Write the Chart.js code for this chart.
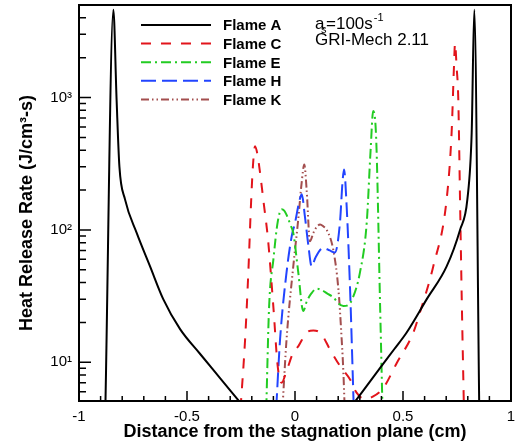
<!DOCTYPE html>
<html lang="en">
<head>
    <meta charset="UTF-8">
    <title>Heat Release Rate</title>
    <script src="https://cdn.jsdelivr.net/npm/chart.js"></script>
    <style>
        body {
            margin: 0;
            padding: 0;
            background: white;
        }
        .chart-container {
            width: 519px;
            height: 443px;
        }
    </style>
</head>
<body>
    <div class="chart-container">
        <canvas id="hrrChart"></canvas>
    </div>

    <script>
        // values (x in cm, heat release in J/cm3-s)
        const flameAX = [-0.878, -0.841, -0.826, -0.813, -0.787, -0.733, -0.671, -0.610, -0.532, -0.44, -0.347, -0.255, 0, 0.272, 0.401, 0.46, 0.517, 0.610, 0.702, 0.764, 0.798, 0.818, 0.830, 0.853];
        const flameAY = [4.5, 4600, 966, 302, 170, 95, 53, 30, 17.8, 11.6, 7.6, 5.0, null, 4.9, 9.4, 12.6, 16.8, 30, 53, 100, 170, 542, 4600, 4.5];

        const flameCX = [-0.252, -0.231, -0.216, -0.204, -0.195, -0.185, -0.175, -0.162, -0.145, -0.125, -0.10, -0.08, -0.062, -0.04, -0.008, 0.015, 0.054, 0.085, 0.12, 0.162, 0.208, 0.255, 0.285, 0.32, 0.36, 0.409, 0.47, 0.548, 0.579, 0.640, 0.702, 0.725, 0.736, 0.741, 0.748, 0.756, 0.764, 0.772, 0.782];
        const flameCY = [4.5, 14.9, 48, 152, 300, 429, 380, 272, 160, 85, 26, 9.3, 7.0, 8.5, 11.9, 13.2, 16.8, 17.4, 16.5, 12.5, 9.4, 7.4, 5.9, 5.3, 5.5, 6.4, 9.8, 16.8, 24, 53, 170, 540, 1720, 2570, 1720, 966, 170, 30, 4.5];

        const flameEX = [-0.133, -0.12, -0.10, -0.08, -0.062, -0.05, -0.039, -0.02, -0.008, 0.015, 0.038, 0.055, 0.075, 0.10, 0.125, 0.15, 0.177, 0.20, 0.224, 0.245, 0.265, 0.301, 0.332, 0.350, 0.362, 0.376, 0.394, 0.405];
        const flameEY = [4.5, 26, 60, 115, 143, 140, 130, 108, 95, 48, 24.4, 29, 33, 36, 35, 33, 31, 28, 26.6, 27, 30, 48, 113, 400, 790, 480, 26.6, 4.5];

        const flameHX = [-0.087, -0.069, -0.039, -0.015, 0.0, 0.020, 0.031, 0.046, 0.062, 0.077, 0.095, 0.131, 0.160, 0.185, 0.208, 0.220, 0.227, 0.239, 0.255, 0.267, 0.272];
        const flameHY = [4.5, 15, 48, 90, 113, 165, 186, 126, 76, 53, 62, 73, 70, 67.5, 113, 230, 286, 152, 35.5, 8.4, 4.5];

        const flameKX = [-0.058, -0.039, -0.008, 0.015, 0.031, 0.043, 0.054, 0.069, 0.085, 0.100, 0.116, 0.132, 0.147, 0.177, 0.201, 0.216, 0.224, 0.230];
        const flameKY = [4.5, 15, 53, 120, 229, 312, 200, 82, 95, 105, 110, 106, 100, 71, 35.5, 15, 8.4, 4.5];

        const xTickValues = [-1, -0.9, -0.8, -0.7, -0.6, -0.5, -0.4, -0.3, -0.2, -0.1, 0, 0.1, 0.2, 0.3, 0.4, 0.5, 0.6, 0.7, 0.8, 0.9, 1];
        const yTickValues = [6, 7, 8, 9, 10, 20, 30, 40, 50, 60, 70, 80, 90, 100, 200, 300, 400, 500, 600, 700, 800, 900, 1000, 2000, 3000, 4000];
        const yTickLabels = { 10: '10\u00b9', 100: '10\u00b2', 1000: '10\u00b3' };

        const FONT = "'Liberation Sans', Arial, sans-serif";

        function toPoints(xs, ys) {
            return xs.map((x, i) => ({ x: x, y: ys[i] }));
        }

        function makeSet(label, xs, ys, color, dash) {
            return {
                label: label,
                data: toPoints(xs, ys),
                borderColor: color,
                borderDash: dash,
                borderWidth: 2,
                pointRadius: 0,
                fill: false,
                spanGaps: false,
                cubicInterpolationMode: 'monotone'
            };
        }

        // inward ticks, frame, legend and the note in the corner
        const decorPlugin = {
            id: 'decor',
            afterDatasetsDraw(chart) {
                const ctx = chart.ctx;
                const area = chart.chartArea;
                const xs = chart.scales.x;
                const ys = chart.scales.y;

                ctx.save();
                ctx.strokeStyle = '#000';
                ctx.lineWidth = 1.5;
                ctx.setLineDash([]);
                ctx.beginPath();
                xTickValues.forEach(v => {
                    const px = xs.getPixelForValue(v);
                    const major = Math.abs(v * 2 - Math.round(v * 2)) < 1e-6;
                    const len = major ? 10 : 5;
                    ctx.moveTo(px, area.bottom);
                    ctx.lineTo(px, area.bottom - len);
                });
                yTickValues.forEach(v => {
                    const py = ys.getPixelForValue(v);
                    const len = yTickLabels[v] ? 12 : 7;
                    ctx.moveTo(area.left, py);
                    ctx.lineTo(area.left + len, py);
                });
                ctx.stroke();

                ctx.lineWidth = 2;
                ctx.strokeRect(area.left, area.top, area.right - area.left, area.bottom - area.top);
                ctx.restore();
            },
            afterDraw(chart) {
                const ctx = chart.ctx;
                ctx.save();

                // legend
                chart.data.datasets.forEach((ds, i) => {
                    const y = 25 + i * 18.6;
                    ctx.strokeStyle = ds.borderColor;
                    ctx.lineWidth = 2;
                    ctx.setLineDash(ds.borderDash || []);
                    ctx.beginPath();
                    ctx.moveTo(141, y);
                    ctx.lineTo(211, y);
                    ctx.stroke();
                    ctx.setLineDash([]);
                    ctx.fillStyle = '#000';
                    ctx.font = 'bold 15px ' + FONT;
                    ctx.textBaseline = 'alphabetic';
                    ctx.fillText(ds.label, 223, y + 5.4);
                });

                // a_s = 100 s^-1 / GRI-Mech 2.11
                ctx.fillStyle = '#000';
                ctx.textBaseline = 'alphabetic';
                ctx.font = '17px ' + FONT;
                ctx.fillText('a', 315, 29);
                ctx.font = '11px ' + FONT;
                ctx.fillText('s', 321, 33);
                ctx.font = '17px ' + FONT;
                ctx.fillText('=100s', 326, 29);
                const w = ctx.measureText('=100s').width;
                ctx.font = '11px ' + FONT;
                ctx.fillText('-1', 326 + w + 1, 21);
                ctx.font = '17px ' + FONT;
                ctx.fillText('GRI-Mech 2.11', 315, 45);

                ctx.restore();
            }
        };

        const ctx = document.getElementById('hrrChart').getContext('2d');
        const hrrChart = new Chart(ctx, {
            type: 'line',
            data: {
                datasets: [
                    makeSet('Flame A', flameAX, flameAY, '#000000', []),
                    makeSet('Flame C', flameCX, flameCY, '#e2141b', [10, 10]),
                    makeSet('Flame E', flameEX, flameEY, '#22cc22', [10, 4, 2, 4]),
                    makeSet('Flame H', flameHX, flameHY, '#2244ff', [15, 6]),
                    makeSet('Flame K', flameKX, flameKY, '#a34e4e', [8, 3, 1.5, 3, 1.5, 3])
                ]
            },
            options: {
                responsive: true,
                maintainAspectRatio: false,
                animation: false,
                layout: {
                    padding: { top: 5, right: 8, left: 0, bottom: 0 }
                },
                plugins: {
                    legend: { display: false },
                    tooltip: { enabled: false }
                },
                scales: {
                    x: {
                        type: 'linear',
                        min: -1,
                        max: 1,
                        afterBuildTicks: (axis) => {
                            axis.ticks = xTickValues.map(v => ({ value: v }));
                        },
                        afterFit: (axis) => {
                            axis.height = 42;
                            axis.paddingLeft = 0;
                            axis.paddingRight = 0;
                        },
                        grid: { display: false, drawTicks: false },
                        border: { display: false },
                        ticks: {
                            autoSkip: false,
                            maxRotation: 0,
                            padding: 7,
                            color: '#000',
                            font: { family: FONT, size: 15 },
                            callback: (v) => {
                                if (Math.abs(v * 2 - Math.round(v * 2)) > 1e-6) return '';
                                return String(Math.round(v * 2) / 2);
                            }
                        },
                        title: {
                            display: true,
                            text: 'Distance from the stagnation plane (cm)',
                            color: '#000',
                            font: { family: FONT, size: 18, weight: 'bold' },
                            padding: { top: 0, bottom: 0 }
                        }
                    },
                    y: {
                        type: 'logarithmic',
                        min: 5.1,
                        max: 5000,
                        afterBuildTicks: (axis) => {
                            axis.ticks = yTickValues.map(v => ({ value: v }));
                        },
                        afterFit: (axis) => {
                            axis.width = 79;
                            axis.paddingTop = 0;
                            axis.paddingBottom = 0;
                        },
                        grid: { display: false, drawTicks: false },
                        border: { display: false },
                        ticks: {
                            autoSkip: false,
                            padding: 7,
                            color: '#000',
                            font: { family: FONT, size: 15 },
                            callback: (v) => yTickLabels[v] || ''
                        },
                        title: {
                            display: true,
                            text: 'Heat Release Rate (J/cm\u00b3-s)    ',
                            color: '#000',
                            font: { family: FONT, size: 18, weight: 'bold' },
                            padding: { top: 16, bottom: 0 }
                        }
                    }
                }
            },
            plugins: [decorPlugin]
        });
    </script>
</body>
</html>
